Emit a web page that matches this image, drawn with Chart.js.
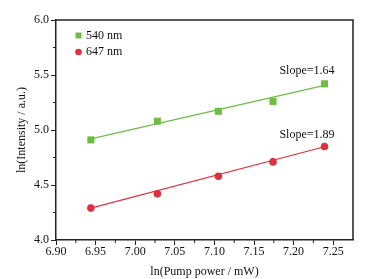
<!DOCTYPE html>
<html>
<head>
<meta charset="utf-8">
<script src="https://cdn.jsdelivr.net/npm/chart.js@4"></script>
<style>
  html, body { margin: 0; padding: 0; background: #fff; }
  #wrap { width: 368px; height: 279px; }
</style>
</head>
<body>
<div id="wrap"><canvas id="chart"></canvas></div>
<script>
// ln(pump power) for both bands
const lnPower = [6.944, 7.028, 7.105, 7.174, 7.239];
const ln540 = [4.91, 5.08, 5.17, 5.26, 5.42];
const ln647 = [4.29, 4.42, 4.58, 4.71, 4.85];
// fitted line end points
const fitX = [6.944, 7.239];
const fit540 = [4.92, 5.405];
const fit647 = [4.29, 4.848];
const slopeLabels = ['Slope=1.64', 'Slope=1.89'];
const seriesNames = ['540 nm', '647 nm'];
const xTicks = [6.90, 6.95, 7.00, 7.05, 7.10, 7.15, 7.20, 7.25];
const yTicks = [4.0, 4.5, 5.0, 5.5, 6.0];

const green = '#6dbd45';
const red = '#e0303f';
const font = 'Liberation Serif';

const pts = (xs, ys) => xs.map((x, i) => ({ x: x, y: ys[i] }));

// box, minor ticks, legend and slope text
const extras = {
    id: 'extras',
    afterDraw(chart) {
        const ctx = chart.ctx;
        const a = chart.chartArea;
        const xs = chart.scales.x, ys = chart.scales.y;
        ctx.save();
        ctx.strokeStyle = '#222';
        ctx.lineWidth = 1.5;
        ctx.beginPath();
        ctx.moveTo(a.left, a.top);
        ctx.lineTo(a.right, a.top);
        ctx.lineTo(a.right, a.bottom);
        ctx.stroke();

        ctx.lineWidth = 1;
        ctx.beginPath();
        for (let i = 0; i < xTicks.length; i++) {
            const px = xs.getPixelForValue(xTicks[i] + 0.025);
            if (px < a.right - 1) { ctx.moveTo(px, a.bottom); ctx.lineTo(px, a.bottom + 3); }
        }
        for (let i = 0; i < yTicks.length - 1; i++) {
            const py = ys.getPixelForValue(yTicks[i] + 0.25);
            ctx.moveTo(a.left, py); ctx.lineTo(a.left - 3, py);
        }
        ctx.stroke();

        // legend
        ctx.font = '12px "' + font + '"';
        ctx.textBaseline = 'middle';
        ctx.fillStyle = green;
        ctx.fillRect(75.5, 32.5, 6, 6);
        ctx.fillStyle = red;
        ctx.beginPath();
        ctx.arc(78.5, 52, 3.3, 0, Math.PI * 2);
        ctx.fill();
        ctx.fillStyle = '#111';
        ctx.textAlign = 'left';
        ctx.fillText(seriesNames[0], 86, 36);
        ctx.fillText(seriesNames[1], 86, 52);

        // slope labels
        ctx.textAlign = 'center';
        ctx.fillText(slopeLabels[0], 307, 71);
        ctx.fillText(slopeLabels[1], 307, 135);
        ctx.restore();
    }
};

new Chart(document.getElementById('chart'), {
    type: 'scatter',
    data: {
        datasets: [
            {
                label: seriesNames[0] + ' fit',
                data: pts(fitX, fit540),
                showLine: true,
                borderColor: green,
                borderWidth: 1.2,
                pointRadius: 0
            },
            {
                label: seriesNames[1] + ' fit',
                data: pts(fitX, fit647),
                showLine: true,
                borderColor: red,
                borderWidth: 1.2,
                pointRadius: 0
            },
            {
                label: seriesNames[0],
                data: pts(lnPower, ln540),
                pointStyle: 'rect',
                pointRadius: 5,
                backgroundColor: green,
                borderColor: green,
                borderWidth: 0
            },
            {
                label: seriesNames[1],
                data: pts(lnPower, ln647),
                pointStyle: 'circle',
                pointRadius: 3.8,
                backgroundColor: red,
                borderColor: red,
                borderWidth: 0
            }
        ]
    },
    options: {
        responsive: true,
        maintainAspectRatio: false,
        animation: false,
        layout: { padding: { top: 20, right: 15, left: 0, bottom: 0 } },
        plugins: {
            legend: { display: false },
            tooltip: { enabled: false }
        },
        scales: {
            x: {
                type: 'linear',
                min: 6.90,
                max: 7.275,
                afterBuildTicks: s => { s.ticks = xTicks.map(v => ({ value: v })); },
                afterFit: s => { s.height = 39; },
                grid: { drawOnChartArea: false, tickLength: 5, color: '#222' },
                border: { color: '#222', width: 1.5 },
                ticks: {
                    color: '#111',
                    padding: 0,
                    maxRotation: 0,
                    font: { family: font, size: 12 },
                    callback: v => v.toFixed(2)
                },
                title: {
                    display: true,
                    text: 'ln(Pump power / mW)',
                    color: '#111',
                    padding: { top: 0, bottom: 0 },
                    font: { family: font, size: 12 }
                }
            },
            y: {
                min: 4.0,
                max: 6.0,
                afterBuildTicks: s => { s.ticks = yTicks.map(v => ({ value: v })); },
                afterFit: s => { s.width = 56; },
                grid: { drawOnChartArea: false, tickLength: 5, color: '#222' },
                border: { color: '#222', width: 1.5 },
                ticks: {
                    color: '#111',
                    padding: 2,
                    font: { family: font, size: 12 },
                    callback: v => v.toFixed(1)
                },
                title: {
                    display: true,
                    text: 'ln(Intensity / a.u.)',
                    color: '#111',
                    padding: { top: 15, bottom: 0 },
                    font: { family: font, size: 12 }
                }
            }
        }
    },
    plugins: [extras]
});
</script>
</body>
</html>
